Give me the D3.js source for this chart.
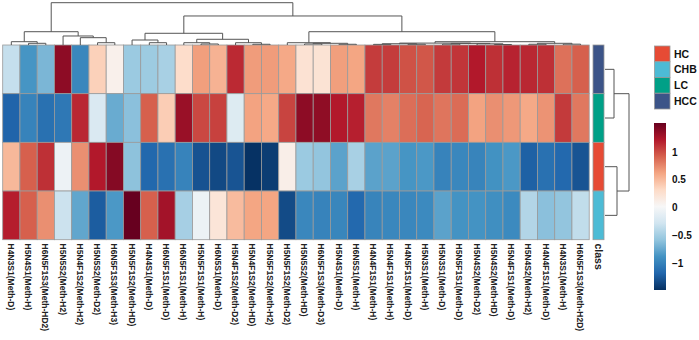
<!DOCTYPE html>
<meta charset="utf-8">
<script src="https://d3js.org/d3.v7.min.js"></script>
<style>
  body { margin: 0; background: #fff; }
  text { font-family: "Liberation Sans", Arial, sans-serif; font-weight: bold; }
</style>
<body>
<div id="my_dataviz"></div>
<script>
// rows of the heatmap (top to bottom)
var groups = ["HCC", "LC", "HC", "CHB"];

// glycan columns (left to right)
var glycans = [
  "H4N3S1(Meth-D)", "H5N4S1(Meth-H)", "H6N5F1S3(Meth-HD2)", "H5N5S2(Meth-H2)",
  "H5N4F1S2(Meth-H2)", "H5N5S2(Meth-D2)", "H6N5F1S3(Meth-H3)", "H5N5F1S2(Meth-HD)",
  "H4N4S1(Meth-D)", "H6N5F1S1(Meth-D)", "H6N5F1S1(Meth-H)", "H5N5F1S1(Meth-H)",
  "H6N5S1(Meth-D)", "H5N4F1S2(Meth-D2)", "H5N4F1S2(Meth-HD)", "H5N5F1S2(Meth-H2)",
  "H5N5F1S2(Meth-D2)", "H5N5S2(Meth-HD)", "H6N5F1S3(Meth-D3)", "H5N4S1(Meth-D)",
  "H6N5S1(Meth-H)", "H4N4F1S1(Meth-H)", "H5N4F1S1(Meth-H)", "H4N5F1S1(Meth-D)",
  "H5N3S1(Meth-H)", "H5N3S1(Meth-D)", "H5N5F1S1(Meth-D)", "H5N4S2(Meth-D2)",
  "H5N4S2(Meth-HD)", "H5N4F1S1(Meth-D)", "H5N4S2(Meth-H2)", "H4N4F1S1(Meth-D)",
  "H4N3S1(Meth-H)", "H6N5F1S3(Meth-H2D)"
];

// scaled abundance per group
var hcc = [-0.33, -0.86, -0.66, 1.37, -0.95, 0.38, 0.1, -0.53, -0.52, -0.47, 0.3, 0.65, 0.55, 1.15, 0.66, 0.66, 0.6,
  0.25, 0.24, 0.65, 0.62, 1.07, 1.07, 0.98, 0.96, 1.08, 1.1, 1.22, 1.12, 1.18, 1.16, 1.12, 0.85, 0.92];
var lc = [-1.18, -0.98, -1.1, -1.05, 1.16, -0.2, -0.73, -0.6, 0.92, 0.4, 1.32, 1.02, 1.05, -0.18, 0.63, 0.6, 1.04,
  1.37, 1.36, 1.22, 1.19, 0.82, 0.78, 0.86, 0.9, 0.83, 0.87, 0.63, 0.72, 0.68, 0.6, 0.7, 1.08, 0.82];
var hc = [0.52, 0.92, 1.12, -0.05, 0.72, 1.22, 1.4, -0.59, -1.16, -1.1, -0.98, -1.28, -1.33, -1.27, -1.46, -1.4, 0.12,
  -0.53, -0.57, -0.78, -0.47, -0.78, -0.78, -0.86, -0.84, -0.98, -0.95, -0.97, -0.88, -0.84, -1.2, -1.1, -1.15, -1.27];
var chb = [1.2, 0.92, 0.72, -0.3, -0.76, -1.22, -0.84, 1.52, 0.92, 1.28, -0.48, -0.06, 0.22, 0.5, 0.62, 0.62, -1.32,
  -0.95, -0.98, -0.96, -1.15, -0.97, -0.95, -0.95, -0.93, -0.78, -0.87, -0.87, -0.9, -0.93, -0.42, -0.6, -0.57, -0.35];

// column clustering: [height, left, right], leaves are column indexes
var colTree = [10.0,
  [3.14,
    [0.78, 0, [0.4, 1, 2]],
    [2.13, 3, [1.73, 4, [0.54, 5, 6]]]],
  [6.86,
    [2.77,
      [1.18, 7, [0.54, 8, 9]],
      [1.35, [0.54, 10, [0.24, 11, 12]], [0.54, 13, [0.17, 14, 15]]]],
    [3.14,
      [0.54, 16, [0.4, [0.24, 17, 18], [0.17, 19, 20]]],
      [0.78,
        [0.45, [0.3, [0.15, 21, 22], [0.17, 23, 24]], [0.38, [0.2, 25, 26], [0.28, 27, [0.12, 28, 29]]]],
        [0.4, [0.17, 30, 31], [0.2, 32, 33]]]]]];

// row clustering
var rowTree = [24, [9, 0, 1], [12, 2, 3]];

// sample class legend
var classes = ["HC", "CHB", "LC", "HCC"];
var classColors = ["#E64B35", "#4DBBD5", "#00A087", "#3C5488"];

var legendTicks = [1, 0.5, 0, -0.5, -1];
var valueMin = -1.47, valueMax = 1.52;

var matrix = [hcc, lc, hc, chb];

var width = 699, height = 340;
var svg = d3.select("#my_dataviz").append("svg")
  .attr("width", width)
  .attr("height", height);

var x = d3.scaleBand().domain(d3.range(glycans.length)).range([2.7, 589.2]);
var y = d3.scaleBand().domain(d3.range(groups.length)).range([45, 239.7]);

// RdBu palette ramped linearly, red at the top of the range
var palette = d3.schemeRdBu[11];
var colorScale = d3.scaleLinear()
  .domain(palette.map(function (c, i) { return valueMax - i * (valueMax - valueMin) / (palette.length - 1); }))
  .range(palette)
  .clamp(true);

// cells
var cells = [];
matrix.forEach(function (row, r) {
  row.forEach(function (v, c) { cells.push({ r: r, c: c, v: v }); });
});
svg.append("g").selectAll("rect")
  .data(cells)
  .enter().append("rect")
  .attr("x", function (d) { return x(d.c); })
  .attr("y", function (d) { return y(d.r); })
  .attr("width", x.bandwidth())
  .attr("height", y.bandwidth())
  .attr("fill", function (d) { return colorScale(d.v); })
  .attr("stroke", "#9a9a9a")
  .attr("stroke-width", 0.8);

// class annotation column
var classOf = d3.scaleOrdinal().domain(classes).range(classColors);
svg.append("g").selectAll("rect")
  .data(groups)
  .enter().append("rect")
  .attr("x", 593)
  .attr("y", function (d, i) { return y(i); })
  .attr("width", 11)
  .attr("height", y.bandwidth())
  .attr("fill", function (d) { return classOf(d); })
  .attr("stroke", "#9a9a9a")
  .attr("stroke-width", 0.8);

// column dendrogram
var hy = d3.scaleLinear().domain([0, 10]).range([45, 2.7]);
var dendro = svg.append("g").attr("fill", "none").attr("stroke", "#555").attr("stroke-width", 1);
function drawCol(node) {
  if (typeof node === "number") return { x: x(node) + x.bandwidth() / 2, h: 0 };
  var a = drawCol(node[1]), b = drawCol(node[2]);
  dendro.append("path")
    .attr("d", "M" + a.x + "," + hy(a.h) + "V" + hy(node[0]) + "H" + b.x + "V" + hy(b.h));
  return { x: (a.x + b.x) / 2, h: node[0] };
}
drawCol(colTree);

// row dendrogram (on the right)
var hx = d3.scaleLinear().domain([0, 24]).range([605, 629]);
function drawRow(node) {
  if (typeof node === "number") return { y: y(node) + y.bandwidth() / 2, h: 0 };
  var a = drawRow(node[1]), b = drawRow(node[2]);
  dendro.append("path")
    .attr("d", "M" + hx(a.h) + "," + a.y + "H" + hx(node[0]) + "V" + b.y + "H" + hx(b.h));
  return { y: (a.y + b.y) / 2, h: node[0] };
}
drawRow(rowTree);

// column labels
svg.append("g").selectAll("text")
  .data(glycans)
  .enter().append("text")
  .attr("transform", function (d, i) {
    return "translate(" + (x(i) + x.bandwidth() / 2) + ",243.5) rotate(90) scale(0.9,1)";
  })
  .attr("dy", "0.35em")
  .attr("font-size", "9.5px")
  .attr("fill", "#222")
  .text(function (d) { return d; });

svg.append("text")
  .attr("transform", "translate(598.5,243.5) rotate(90)")
  .attr("dy", "0.35em")
  .attr("font-size", "10.5px")
  .attr("fill", "#222")
  .text("class");

// class legend
var leg = svg.append("g");
var boxH = 15.75;
leg.selectAll("rect")
  .data(classes)
  .enter().append("rect")
  .attr("x", 654.5)
  .attr("y", function (d, i) { return 46 + i * boxH; })
  .attr("width", 15.5)
  .attr("height", boxH)
  .attr("fill", function (d) { return classOf(d); })
  .attr("stroke", "#9a9a9a")
  .attr("stroke-width", 0.8);
leg.selectAll("text")
  .data(classes)
  .enter().append("text")
  .attr("x", 674)
  .attr("y", function (d, i) { return 46 + i * boxH + boxH / 2; })
  .attr("dy", "0.35em")
  .attr("font-size", "10.5px")
  .attr("fill", "#111")
  .text(function (d) { return d; });

// colour bar
var barY = d3.scaleLinear().domain([valueMin, valueMax]).range([290, 123]);
var defs = svg.append("defs");
var grad = defs.append("linearGradient")
  .attr("id", "legend-gradient")
  .attr("x1", "0%").attr("y1", "0%").attr("x2", "0%").attr("y2", "100%");
var numStops = 20;
for (var i = 0; i <= numStops; i++) {
  grad.append("stop")
    .attr("offset", (i * 100 / numStops) + "%")
    .attr("stop-color", colorScale(valueMax + (valueMin - valueMax) * i / numStops));
}
svg.append("rect")
  .attr("x", 654)
  .attr("y", barY(valueMax))
  .attr("width", 12)
  .attr("height", barY(valueMin) - barY(valueMax))
  .style("fill", "url(#legend-gradient)");

svg.append("g").selectAll("text")
  .data(legendTicks)
  .enter().append("text")
  .attr("x", 672)
  .attr("y", function (d) { return barY(d); })
  .attr("dy", "0.35em")
  .attr("font-size", "10px")
  .attr("fill", "#111")
  .text(function (d) { return d < 0 ? "\u2212" + Math.abs(d) : d; });
</script>
</body>
